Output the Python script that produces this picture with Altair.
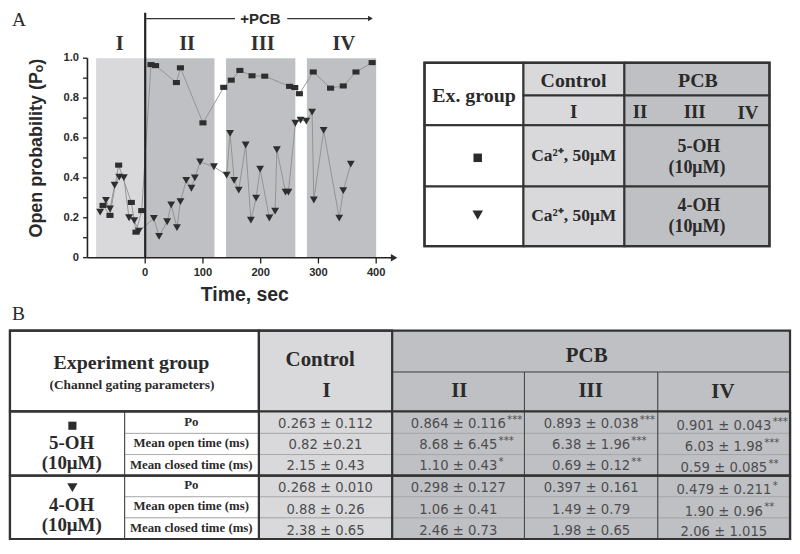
import altair as alt
import pandas as pd

W, H = 784, 532
SX, SY = W / 800.0, H / 554.0
F = (SX + SY) / 2.0

# ------------------------------------------------------------------ data
sq_time = [-73, -61, -46, -24, -16, -6, 10, 18, 54, 61, 100, 136, 149, 164, 185, 207, 250, 259, 267, 291, 321, 343, 365, 393]
sq_po = [0.262, 0.212, 0.464, 0.277, 0.128, 0.236, 0.968, 0.963, 0.878, 0.952, 0.676, 0.854, 0.890, 0.939, 0.912, 0.910, 0.859, 0.853, 0.822, 0.931, 0.850, 0.861, 0.931, 0.978]

tri_time = [-78, -68, -61, -53, -45, -37, -28, -19, -11, 15, 24, 38, 45, 55, 61, 71, 80, 86, 95, 119, 141, 147, 154, 162, 174, 183, 192, 199, 215, 225, 228, 243, 248, 260, 269, 279, 289, 292, 309, 336, 343, 356]
tri_po = [0.228, 0.287, 0.244, 0.363, 0.404, 0.401, 0.200, 0.186, 0.133, 0.197, 0.107, 0.180, 0.265, 0.151, 0.281, 0.388, 0.348, 0.400, 0.480, 0.456, 0.414, 0.623, 0.388, 0.339, 0.565, 0.188, 0.299, 0.444, 0.199, 0.233, 0.541, 0.329, 0.329, 0.674, 0.690, 0.685, 0.730, 0.289, 0.638, 0.198, 0.336, 0.469]

period_names = ["I", "II", "III", "IV"]
period_start = [-85, 0, 140, 280]
period_end = [0, 120, 260, 400]

y_tick_values = [0, 0.1, 0.2, 0.3, 0.4, 0.5, 0.6, 0.7, 0.8, 0.9, 1.0]
y_label_values = [0, 0.2, 0.4, 0.6, 0.8, 1.0]
y_label_text = ["0", "0.2", "0.4", "0.6", "0.8", "1.0"]
x_tick_values = [0, 100, 200, 300, 400]
x_label_text = ["0", "100", "200", "300", "400"]

group_names = ["5-OH", "4-OH"]
group_conc = "(10μM)"
param_names = ["Po", "Mean open time (ms)", "Mean closed  time (ms)"]
control_condition = "Ca²⁺, 50μM"

oh5_values = [
    ["0.263 ± 0.112", "0.864 ± 0.116", "0.893  ± 0.038", "0.901 ± 0.043"],
    ["0.82 ±0.21", "8.68 ± 6.45", "6.38 ± 1.96", "6.03 ± 1.98"],
    ["2.15 ± 0.43", "1.10 ± 0.43", "0.69 ± 0.12", "0.59 ± 0.085"],
]
oh5_sig = [["", "***", "***", "***"], ["", "***", "***", "***"], ["", "*", "**", "**"]]
oh4_values = [
    ["0.268 ± 0.010", "0.298 ± 0.127", "0.397 ± 0.161", "0.479 ± 0.211"],
    ["0.88 ± 0.26", "1.06 ± 0.41", "1.49 ± 0.79", "1.90 ± 0.96"],
    ["2.38 ± 0.65", "2.46 ± 0.73", "1.98 ± 0.65", "2.06 ± 1.015"],
]
oh4_sig = [["", "", "", "*"], ["", "", "", "**"], ["", "", "", ""]]

# ------------------------------------------------------------------ style / layout
LIGHT = "#d9d9db"
DARK = "#bfc0c3"
INK = "#2a2a2a"
BORDER = "#333333"
SANS = "Liberation Sans"
SERIF = "Liberation Serif"
VALF = "DejaVu Sans"

PXS = alt.Scale(domain=[0, 800], range=[0, W], nice=False, zero=False)
PYS = alt.Scale(domain=[0, 554], range=[0, H], nice=False, zero=False)
XS = alt.Scale(domain=[0, 400], range=[140 * SX, 375.7 * SX], nice=False, zero=False)
YS = alt.Scale(domain=[0, 1], range=[260 * SY, 52.3 * SY], nice=False, zero=False)


def X(f, s):
    return alt.X(f + ":Q", scale=s, axis=None)


def Y(f, s):
    return alt.Y(f + ":Q", scale=s, axis=None)


def texts(rows, font, size, weight="bold", color=INK, align="center",
          baseline="alphabetic", angle=0, plot=False):
    df = pd.DataFrame(rows, columns=["x", "y", "label"])
    xs, ys = (XS, YS) if plot else (PXS, PYS)
    mk = dict(font=font, fontSize=size * F, fontWeight=weight, color=color,
              align=align, baseline=baseline)
    if angle:
        mk["angle"] = angle
    return alt.Chart(df).mark_text(**mk).encode(x=X("x", xs), y=Y("y", ys), text="label:N")


def cells(rows, stroke=BORDER, sw=2.0, filled=True):
    df = pd.DataFrame(rows, columns=["x0", "y0", "x1", "y1", "fill"])
    if filled:
        m = alt.Chart(df).mark_rect(stroke=stroke, strokeWidth=sw)
        return m.encode(x=X("x0", PXS), x2=alt.X2("x1"), y=Y("y0", PYS), y2=alt.Y2("y1"),
                        fill=alt.Fill("fill:N", scale=None))
    m = alt.Chart(df).mark_rect(stroke=stroke, strokeWidth=sw, fillOpacity=0)
    return m.encode(x=X("x0", PXS), x2=alt.X2("x1"), y=Y("y0", PYS), y2=alt.Y2("y1"))


def rules(rows, color, sw, plot=False):
    df = pd.DataFrame(rows, columns=["x0", "y0", "x1", "y1"])
    xs, ys = (XS, YS) if plot else (PXS, PYS)
    return alt.Chart(df).mark_rule(color=color, strokeWidth=sw).encode(
        x=X("x0", xs), x2=alt.X2("x1"), y=Y("y0", ys), y2=alt.Y2("y1"))


def symbols(rows, shape, size, plot=False):
    df = pd.DataFrame(rows, columns=["x", "y"])
    xs, ys = (XS, YS) if plot else (PXS, PYS)
    return alt.Chart(df).mark_point(shape=shape, size=size, filled=True, opacity=1,
                                    color="#2b2b2b", strokeWidth=0).encode(
        x=X("x", xs), y=Y("y", ys))


layers = []

# ------------------------------------------------------------------ panel A plot
bands = pd.DataFrame({"s": period_start, "e": period_end,
                      "fill": [LIGHT, DARK, DARK, DARK], "lo": 0.0, "hi": 1.0})
layers.append(alt.Chart(bands).mark_rect().encode(
    x=X("s", XS), x2=alt.X2("e"), y=Y("lo", YS), y2=alt.Y2("hi"),
    fill=alt.Fill("fill:N", scale=None)))

sq_df = pd.DataFrame({"t": sq_time, "po": sq_po})
tri_df = pd.DataFrame({"t": tri_time, "po": tri_po})
for d in (sq_df, tri_df):
    layers.append(alt.Chart(d).mark_line(color="#8e8e8e", strokeWidth=0.9).encode(
        x=X("t", XS), y=Y("po", YS)))
layers.append(alt.Chart(sq_df).mark_point(shape="M-1,-0.72L1,-0.72L1,0.72L-1,0.72Z", size=50,
                                          filled=True, opacity=1, color="#2e2e2e",
                                          strokeWidth=0).encode(x=X("t", XS), y=Y("po", YS)))
layers.append(alt.Chart(tri_df).mark_point(shape="triangle-down", size=62, filled=True,
                                           opacity=1, color="#2e2e2e", strokeWidth=0).encode(
    x=X("t", XS), y=Y("po", YS)))

# axes
layers.append(rules([[-100, 0, 430, 0], [-100, 0, -100, 1.0]], "#222222", 1.6, plot=True))
layers.append(symbols([[431, 0]], "triangle-right", 55, plot=True))
ytk = pd.DataFrame({"t": -100, "v": y_tick_values})
layers.append(alt.Chart(ytk).mark_rule(color="#222222", strokeWidth=1.3).encode(
    x=X("t", XS), x2=alt.value(76.5 * SX), y=Y("v", YS)))
xtk = pd.DataFrame({"t": x_tick_values, "z": 0.0})
layers.append(alt.Chart(xtk).mark_rule(color="#222222", strokeWidth=1.3).encode(
    x=X("t", XS), y=Y("z", YS), y2=alt.value(266 * SY)))
layers.append(alt.Chart(pd.DataFrame({"v": y_label_values, "label": y_label_text})).mark_text(
    font=SANS, fontWeight="bold", fontSize=11.5 * F, color=INK, align="right",
    baseline="middle").encode(x=alt.value(72.5 * SX), y=Y("v", YS), text="label:N"))
layers.append(alt.Chart(pd.DataFrame({"t": x_tick_values, "label": x_label_text})).mark_text(
    font=SANS, fontWeight="bold", fontSize=11.5 * F, color=INK, align="center",
    baseline="alphabetic").encode(x=X("t", XS), y=alt.value(279.5 * SY), text="label:N"))

# PCB onset line and arrow
layers.append(rules([[0, 1.228, 0, 0]], "#222222", 2.2, plot=True))
layers.append(rules([[0, 1.199, 155.5, 1.199], [246, 1.199, 389, 1.199]], "#333333", 1.2, plot=True))
layers.append(symbols([[390, 1.199]], "triangle-right", 30, plot=True))
layers.append(texts([[199.5, 1.172, "+PCB"]], SANS, 15.5, plot=True))
layers.append(texts([[x, 1.043, n] for x, n in zip([-44, 72.5, 203.5, 344], period_names)],
                    SERIF, 21, color="#303030", plot=True))

# titles
layers.append(texts([[241.7, 305, "Time, sec"]], SANS, 20))
layers.append(texts([[35, 146, "Open probability (Pₒ)"]], SANS, 18.5, angle=270))
layers.append(texts([[4, 18.5, "A"], [4, 325, "B"]], SERIF, 20, weight="normal", align="left"))

# ------------------------------------------------------------------ panel A legend table
ca, cb, cc, cd = 425, 526, 629, 777
ra, rb, rc, rd, re = 57, 91, 122, 186, 248
layers.append(cells([
    [ca, ra, cb, rc, "white"],
    [cb, ra, cc, rb, LIGHT], [cb, rb, cc, rc, LIGHT],
    [cc, ra, cd, rb, DARK], [cc, rb, cd, rc, DARK],
    [ca, rc, cb, rd, "white"], [cb, rc, cc, rd, LIGHT], [cc, rc, cd, rd, DARK],
    [ca, rd, cb, re, "white"], [cb, rd, cc, re, LIGHT], [cc, rd, cd, re, DARK],
]))
layers.append(cells([[ca, ra, cd, re, "none"]], sw=2.4, filled=False))
layers.append(texts([
    [475.5, 98.3, "Ex. group"], [577, 82.3, "Control"], [704, 82.7, "PCB"],
], SERIF, 20.5))
layers.append(texts([
    [577.3, 115, period_names[0]], [645, 115, period_names[1]],
    [700.7, 115, period_names[2]], [755, 116, period_names[3]],
], SERIF, 19.5))
layers.append(texts([[577.3, 159.5, control_condition], [577.3, 221.7, control_condition]],
                    SERIF, 18))
layers.append(texts([
    [705, 149.5, group_names[0]], [703, 171.5, group_conc],
    [705, 211.0, group_names[1]], [703, 233.0, group_conc],
], SERIF, 18.5))
layers.append(symbols([[479.3, 156]], "square", 72))
layers.append(symbols([[479.3, 215.7]], "triangle-down", 110))

# ------------------------------------------------------------------ panel B table
colB = [2, 119, 256, 392, 527, 663, 798]
rowH = [336, 379, 420]
rowB = [420, 443, 465, 487, 509, 531, 553]

fills = [
    [colB[0], rowH[0], colB[2], rowH[2], "white"],
    [colB[2], rowH[0], colB[3], rowH[2], LIGHT],
    [colB[3], rowH[0], colB[6], rowH[1], DARK],
    [colB[3], rowH[1], colB[4], rowH[2], DARK],
    [colB[4], rowH[1], colB[5], rowH[2], DARK],
    [colB[5], rowH[1], colB[6], rowH[2], DARK],
    [colB[0], rowB[0], colB[1], rowB[3], "white"],
    [colB[0], rowB[3], colB[1], rowB[6], "white"],
]
for r in range(6):
    fills.append([colB[1], rowB[r], colB[2], rowB[r + 1], "white"])
    fills.append([colB[2], rowB[r], colB[3], rowB[r + 1], LIGHT])
    for c in range(3, 6):
        fills.append([colB[c], rowB[r], colB[c + 1], rowB[r + 1], DARK])
layers.append(cells(fills, stroke="#a3a3a6", sw=0.8))
layers.append(rules([
    [colB[1], rowB[0], colB[1], rowB[6]],
    [colB[4], rowH[1], colB[4], rowB[6]],
    [colB[5], rowH[1], colB[5], rowB[6]],
    [colB[3], rowH[1], colB[6], rowH[1]],
], "#4a4a4a", 1.1))
layers.append(cells([
    [colB[0], rowH[0], colB[6], rowB[6], "none"],
    [colB[0], rowH[0], colB[2], rowH[2], "none"],
    [colB[2], rowH[0], colB[3], rowB[6], "none"],
    [colB[0], rowB[0], colB[6], rowB[3], "none"],
    [colB[0], rowB[3], colB[6], rowB[6], "none"],
], sw=2.2, filled=False))

layers.append(texts([[126, 376, "Experiment group"]], SERIF, 20.5))
layers.append(texts([[126.5, 396.5, "(Channel gating parameters)"]], SERIF, 13.8))
layers.append(texts([
    [318.5, 372.5, "Control"], [590.5, 368.5, "PCB"],
    [325, 405, period_names[0]], [460.5, 405, period_names[1]],
    [594.5, 405, period_names[2]], [729.5, 406.5, period_names[3]],
], SERIF, 21.5))
layers.append(texts([
    [65, 459, group_names[0]], [65, 480.5, group_conc],
    [65, 524.3, group_names[1]], [65, 545, group_conc],
], SERIF, 19.5))
layers.append(symbols([[65.7, 435]], "square", 66))
layers.append(symbols([[65.7, 499.5]], "triangle-down", 105))

param_base = [435, 456.7, 480, 501, 522.7, 546]
layers.append(texts([[187, b, param_names[i % 3]] for i, b in enumerate(param_base)], SERIF, 13.2))

val_base = [437.7, 459.3, 481, 504.3, 526.7, 548.3]
col_center = [324, 459.5, 595, 730.5]
col_dy = [0, 0, 0, 2]
glyph_w = {".": 0.318, " ": 0.318, "±": 0.838}
VAL_SIZE = 13.6


def text_w(s, size):
    s = " ".join(s.split())
    return sum(glyph_w.get(ch, 0.636) for ch in s) * size


val_rows, star_rows = [], []
for g, (vals, sigs) in enumerate([(oh5_values, oh5_sig), (oh4_values, oh4_sig)]):
    for p in range(3):
        r = g * 3 + p
        for c in range(4):
            yb = val_base[r] + col_dy[c]
            val_rows.append([col_center[c], yb, vals[p][c]])
            if sigs[p][c]:
                star_rows.append([col_center[c] + text_w(vals[p][c], VAL_SIZE) / 2 + 0.8,
                                  yb - 5.5, sigs[p][c]])
layers.append(texts(val_rows, VALF, VAL_SIZE, weight="normal", color="#4d4d4f"))
layers.append(texts(star_rows, VALF, 10.5, weight="normal", color="#4d4d4f", align="left"))

chart = alt.layer(*layers).resolve_scale(x="independent", y="independent").properties(
    width=W, height=H, padding=0, autosize="none", background="white"
).configure_view(stroke=None)

chart.save("out.html", embed_options={"renderer": "svg", "actions": False})
